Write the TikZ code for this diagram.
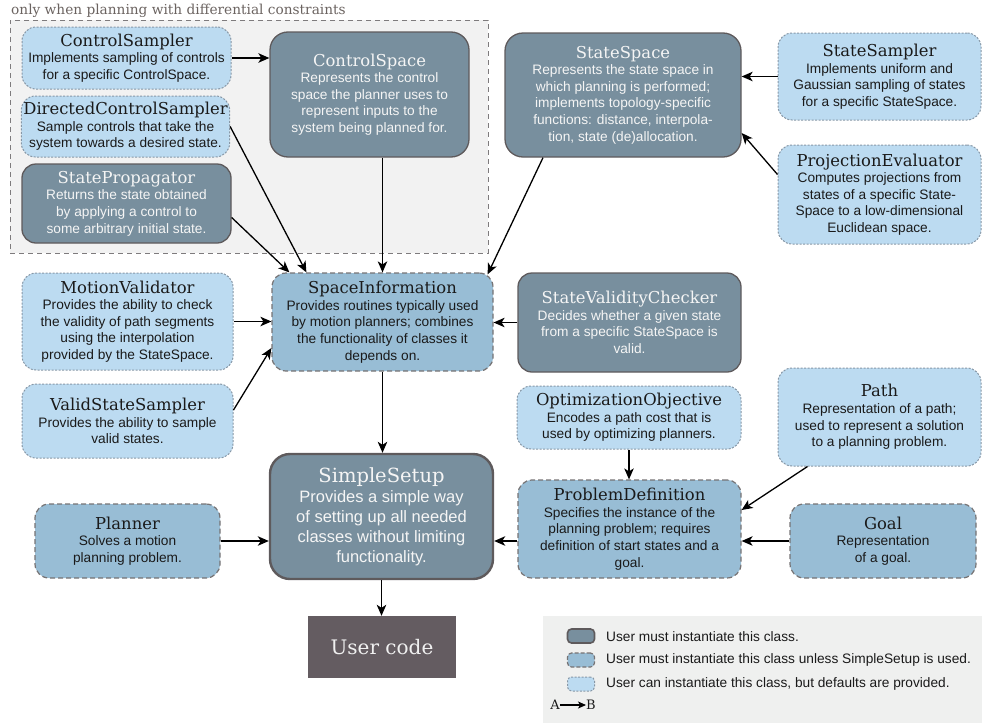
\documentclass[tikz,border=0pt]{standalone}
\usepackage{fontspec}
\setmainfont{DejaVu Serif}
\setsansfont{Liberation Sans}
\usetikzlibrary{arrows.meta}
\definecolor{mustfill}{HTML}{788F9E}
\definecolor{unlessfill}{HTML}{98BDD5}
\definecolor{defaultfill}{HTML}{BCDBF1}
\definecolor{boxline}{HTML}{5E5A5C}
\definecolor{dotline}{HTML}{8797A6}
\definecolor{regionfill}{HTML}{F2F2F2}
\definecolor{legendfill}{HTML}{EFF0EF}
\definecolor{usercodefill}{HTML}{645C61}
\definecolor{captiongray}{HTML}{6B6360}
\definecolor{inktext}{HTML}{1A1A1A}

\newcommand{\clsname}[1]{{\rmfamily\fontsize{16.4}{19.5}\selectfont #1}}

\tikzset{
    every node/.style={align=center, rounded corners=14pt, inner sep=2pt,
    	text=inktext, font=\sffamily\fontsize{13.7}{16.6}\selectfont}
}
\tikzset{
    mustcls/.style={fill=mustfill, draw=boxline, line width=1.3pt, text=white!96!black},
    unlesscls/.style={fill=unlessfill, draw=boxline!85, line width=1.2pt,
    	dash pattern=on 5pt off 3pt},
    defaultcls/.style={fill=defaultfill, draw=dotline, line width=1pt,
    	dash pattern=on 2pt off 1.5pt}
}
\tikzset{
    every edge/.append style={line width=1.3pt, -{Stealth[length=11pt,width=9.5pt,inset=3pt]}}
}

\begin{document}
\begin{tikzpicture}[x=1pt,y=-1pt]
	\useasboundingbox (0,0) rectangle (982,723);

	% region for differential constraints
	\node (diffregion) [fill=regionfill, draw=boxline!80, line width=1pt, dash pattern=on 5pt off 4pt,
		sharp corners, minimum width=478pt, minimum height=233pt] at (249,136.5) {};
	\node (diffcaption) [anchor=base west, inner sep=0pt, text=captiongray,
		font=\rmfamily\fontsize{13.7}{16}\selectfont] at (11,14.5)
		{only when planning with differential constraints};

	\node (ctrlsampler) [defaultcls, minimum width=209pt, minimum height=62pt] at (126.5,58)
		{\clsname{ControlSampler}\\Implements sampling of controls\\for a specific ControlSpace.};
	\node (dirsampler) [defaultcls, minimum width=207pt, minimum height=61pt] at (125.5,126.5)
		{\clsname{DirectedControlSampler}\\Sample controls that take the\\system towards a desired state.};
	\node (propagator) [mustcls, minimum width=209pt, minimum height=79pt] at (126.5,203.5)
		{\clsname{StatePropagator}\\Returns the state obtained\\by applying a control to\\some arbitrary initial state.};
	\node (ctrlspace) [mustcls, rounded corners=18pt, minimum width=199pt, minimum height=125pt] at (369.5,94.5)
		{\clsname{ControlSpace}\\Represents the control\\space the planner uses to\\represent inputs to the\\system being planned for.};
	\node (statespace) [mustcls, rounded corners=18pt, minimum width=236pt, minimum height=124pt] at (623,95)
		{\clsname{StateSpace}\\Represents the state space in\\which planning is performed;\\implements topology-specific\\functions: distance, interpola-\\tion, state (de)allocation.};
	\node (statesampler) [defaultcls, minimum width=203pt, minimum height=87pt] at (879.5,76.5)
		{\clsname{StateSampler}\\Implements uniform and\\Gaussian sampling of states\\for a specific StateSpace.};
	\node (projeval) [defaultcls, minimum width=203pt, minimum height=99pt] at (879.5,194.5)
		{\clsname{ProjectionEvaluator}\\Computes projections from\\states of a specific State-\\Space to a low-dimensional\\Euclidean space.};

	\node (motionval) [defaultcls, minimum width=211pt, minimum height=97pt] at (127.5,321.5)
		{\clsname{MotionValidator}\\Provides the ability to check\\the validity of path segments\\using the interpolation\\provided by the StateSpace.};
	\node (spaceinfo) [unlesscls, minimum width=221pt, minimum height=98pt] at (382.5,322)
		{\clsname{SpaceInformation}\\Provides routines typically used\\by motion planners; combines\\the functionality of classes it\\depends on.};
	\node (svc) [mustcls, minimum width=223pt, minimum height=99pt] at (629.5,322.5)
		{\clsname{StateValidityChecker}\\Decides whether a given state\\from a specific StateSpace is\\valid.};
	\node (vss) [defaultcls, minimum width=211pt, minimum height=74pt] at (127.5,421)
		{\clsname{ValidStateSampler}\\Provides the ability to sample\\valid states.};
	\node (optobj) [defaultcls, minimum width=224pt, minimum height=63pt] at (629,417.5)
		{\clsname{OptimizationObjective}\\Encodes a path cost that is\\used by optimizing planners.};
	\node (pathcls) [defaultcls, minimum width=203pt, minimum height=98pt] at (879.5,417)
		{\clsname{Path}\\Representation of a path;\\used to represent a solution\\to a planning problem.};

	\node (simplesetup) [mustcls, line width=2.4pt, rounded corners=20pt, minimum width=223pt, minimum height=125pt,
		font=\sffamily\fontsize{16.5}{20}\selectfont] at (381.5,516.5)
		{{\rmfamily\fontsize{19.5}{23}\selectfont SimpleSetup}\\Provides a simple way\\of setting up all needed\\classes without limiting\\functionality.};
	\node (planner) [unlesscls, minimum width=185pt, minimum height=74pt] at (127.5,541)
		{\clsname{Planner}\\Solves a motion\\planning problem.};
	\node (probdef) [unlesscls, minimum width=223pt, minimum height=98pt] at (629.5,529)
		{\clsname{ProblemDefinition}\\Specifies the instance of the\\planning problem; requires\\definition of start states and a\\goal.};
	\node (goal) [unlesscls, minimum width=186pt, minimum height=74pt] at (883,541)
		{\clsname{Goal}\\Representation\\of a goal.};
	\node (usercode) [fill=usercodefill, sharp corners, text=white!94!black, minimum width=148pt, minimum height=62pt,
		font=\rmfamily\fontsize{20}{24}\selectfont] at (382,647) {User code};

	% legend
	\node (legendbg) [fill=legendfill, sharp corners, minimum width=439pt, minimum height=107pt] at (762.5,669.5) {};
	\node (legmust) [mustcls, line width=1.6pt, rounded corners=4pt, inner sep=0pt,
		minimum width=27pt, minimum height=14pt] at (581,636) {};
	\node (legunless) [unlesscls, dash pattern=on 4pt off 2pt, rounded corners=4pt, inner sep=0pt,
		minimum width=27pt, minimum height=14pt] at (581,660) {};
	\node (legdefault) [defaultcls, rounded corners=4pt, inner sep=0pt,
		minimum width=27pt, minimum height=14pt] at (581,684) {};
	\node (legmusttext) [anchor=west, inner sep=0pt] at (606,637) {User must instantiate this class.};
	\node (legunlesstext) [anchor=west, inner sep=0pt] at (606,660) {User must instantiate this class unless SimpleSetup is used.};
	\node (legdefaulttext) [anchor=west, inner sep=0pt] at (606,684) {User can instantiate this class, but defaults are provided.};
	\node (lega) [inner sep=0pt, font=\rmfamily\fontsize{13}{15}\selectfont] at (555,705) {A};
	\node (legb) [inner sep=0pt, font=\rmfamily\fontsize{13}{15}\selectfont] at (591,705) {B};

	\draw (ctrlsampler.east) edge (ctrlspace.west |- ctrlsampler.east);
	\draw (dirsampler.east) edge ([xshift=35pt]spaceinfo.north west);
	\draw ([yshift=-14pt]propagator.east) edge ([xshift=18pt]spaceinfo.north west);
	\draw (ctrlspace.south -| spaceinfo.north) edge (spaceinfo.north);
	\draw ([xshift=-80pt]statespace.south) edge ([xshift=-6pt,yshift=-2pt]spaceinfo.north east);
	\draw (statesampler.west) edge (statespace.east |- statesampler.west);
	\draw ([yshift=-30pt]projeval.north west) edge ([yshift=-38pt]statespace.east);
	\draw (motionval.east) edge (spaceinfo.west |- motionval.east);
	\draw ([yshift=11pt]vss.east) edge ([yshift=-26pt]spaceinfo.west);
	\draw (svc.west) edge (spaceinfo.east |- svc.west);
	\draw (spaceinfo.south) edge (spaceinfo.south |- simplesetup.north);
	\draw (optobj.south) edge (optobj.south |- probdef.north);
	\draw ([xshift=30pt]pathcls.south west) edge ([yshift=19pt]probdef.east);
	\draw (goal.west) edge (probdef.east |- goal.west);
	\draw (probdef.west |- goal.west) edge (simplesetup.east |- goal.west);
	\draw (planner.east) edge (simplesetup.west |- planner.east);
	\draw (simplesetup.south) edge (simplesetup.south |- usercode.north);
	\draw (lega) edge [line width=1.2pt, -{Stealth[length=8pt,width=7pt,inset=2pt]}] (legb);
\end{tikzpicture}
\end{document}
